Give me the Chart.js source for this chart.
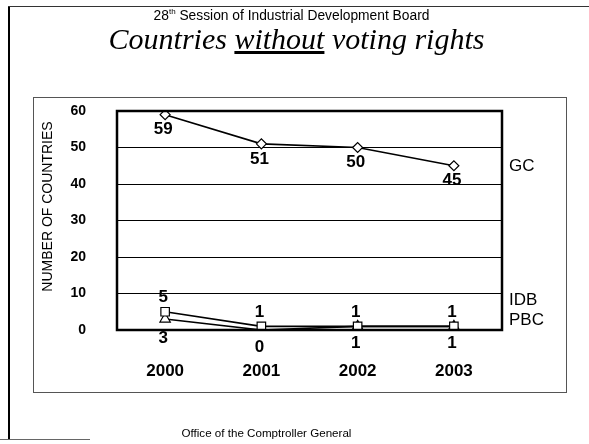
<!DOCTYPE html>
<html>
<head>
<meta charset="utf-8">
<script src="https://cdn.jsdelivr.net/npm/chart.js@4.4.1/dist/chart.umd.min.js"></script>
<style>
  body { margin: 0; background: #fff; }
  #wrap { position: relative; width: 589px; height: 444px; overflow: hidden; }
  #chart { position: absolute; left: 0; top: 0; }
  .txt { position: absolute; left: 0; width: 589px; text-align: center; color: #000; }
  #sub { top: 7px; font: 13.8px "Liberation Sans", Arial, sans-serif; left: -3px; }
  #sub sup { font-size: 8px; }
  #title { top: 22px; font: italic 30px "Liberation Serif", serif; left: 2px; }
  #foot { top: 426px; font: 11.6px "Liberation Sans", Arial, sans-serif; left: -28px; }
  .ln { position: absolute; background: #000; }
  #box { position: absolute; left: 33px; top: 97px; width: 532px; height: 294px; border: 1px solid #555; }
</style>
</head>
<body>
<div id="wrap">
  <div class="ln" style="left:8px; top:6px; width:2px; height:434px;"></div>
  <div class="ln" style="left:8px; top:6px; width:581px; height:1px; background:#333;"></div>
  <div class="ln" style="left:0px; top:439px; width:90px; height:1px; background:#666;"></div>
  <div id="box"></div>
  <canvas id="chart" width="589" height="444"></canvas>
  <div class="txt" id="sub">28<sup>th</sup> Session of Industrial Development Board</div>
  <div class="txt" id="title">Countries <u>without</u> voting rights</div>
  <div class="txt" id="foot">Office of the Comptroller General</div>
</div>
<script>
// data
var years = ['2000', '2001', '2002', '2003'];
var gcValues = [59, 51, 50, 45];
var idbValues = [5, 1, 1, 1];
var pbcValues = [3, 0, 1, 1];
var seriesNames = ['GC', 'IDB', 'PBC'];
var yTicks = [0, 10, 20, 30, 40, 50, 60];
var yTitle = 'NUMBER OF COUNTRIES';

var sans = '"Liberation Sans", Arial, sans-serif';

// frame round the plot, value labels, axis title and series names on the right
var labelsPlugin = {
    id: 'labels',
    afterDatasetsDraw: function(chart) {
        var ctx = chart.ctx;
        var area = chart.chartArea;
        ctx.save();
        ctx.strokeStyle = '#000';
        ctx.lineWidth = 2.5;
        ctx.strokeRect(area.left, area.top, area.right - area.left, area.bottom - area.top);

        ctx.fillStyle = '#000';
        ctx.textAlign = 'center';
        ctx.textBaseline = 'middle';
        ctx.font = 'bold 17px ' + sans;
        // GC below, IDB above, PBC below
        var offsets = [15, -14, 17];
        chart.data.datasets.forEach(function(ds, i) {
            var meta = chart.getDatasetMeta(i);
            meta.data.forEach(function(pt, j) {
                var dy = offsets[i];
                if (i === 2 && j === 0) dy = 19;
                ctx.fillText(ds.data[j], pt.x - 2, pt.y + dy);
            });
        });

        // rotated y axis title, a little above the middle as in the original
        ctx.save();
        ctx.translate(area.left - 69, (area.top + area.bottom) / 2 - 14);
        ctx.rotate(-Math.PI / 2);
        ctx.font = '14px ' + sans;
        ctx.fillText(yTitle, 0, 0);
        ctx.restore();

        ctx.textAlign = 'left';
        ctx.font = '17px ' + sans;
        var gcLast = chart.getDatasetMeta(0).data[3];
        ctx.fillText(seriesNames[0], area.right + 7, gcLast.y + 1);
        ctx.fillText(seriesNames[1], area.right + 7, area.bottom - 30);
        ctx.fillText(seriesNames[2], area.right + 7, area.bottom - 10);
        ctx.restore();
    }
};

function lineSet(label, data, style, radius) {
    return {
        label: label,
        data: data,
        borderColor: '#000',
        borderWidth: 1.6,
        backgroundColor: '#fff',
        pointStyle: style,
        pointRadius: radius,
        pointBackgroundColor: '#fff',
        pointBorderColor: '#000',
        pointBorderWidth: 1.2,
        tension: 0,
        fill: false
    };
}

var ctx = document.getElementById('chart').getContext('2d');
var chart = new Chart(ctx, {
    type: 'line',
    data: {
        labels: years,
        datasets: [
            lineSet(seriesNames[0], gcValues, 'rectRot', 5),
            lineSet(seriesNames[1], idbValues, 'rect', 6),
            lineSet(seriesNames[2], pbcValues, 'triangle', 6)
        ]
    },
    options: {
        responsive: false,
        animation: false,
        events: [],
        layout: {
            padding: { left: 33, top: 111, right: 87, bottom: 52 }
        },
        plugins: {
            legend: { display: false },
            tooltip: { enabled: false }
        },
        scales: {
            x: {
                offset: true,
                grid: { display: false, drawTicks: false },
                border: { display: false },
                ticks: {
                    color: '#000',
                    padding: 31,
                    font: { family: sans, size: 17, weight: 'bold' }
                },
                afterFit: function(s) { s.height = 62; }
            },
            y: {
                min: 0,
                max: 60,
                afterBuildTicks: function(s) {
                    s.ticks = yTicks.map(function(v) { return { value: v }; });
                },
                grid: { color: '#000', lineWidth: 1, drawTicks: false },
                border: { display: false },
                ticks: {
                    color: '#000',
                    padding: 31,
                    font: { family: sans, size: 14, weight: 'bold' }
                },
                afterFit: function(s) { s.width = 84; }
            }
        }
    },
    plugins: [labelsPlugin]
});
</script>
</body>
</html>
